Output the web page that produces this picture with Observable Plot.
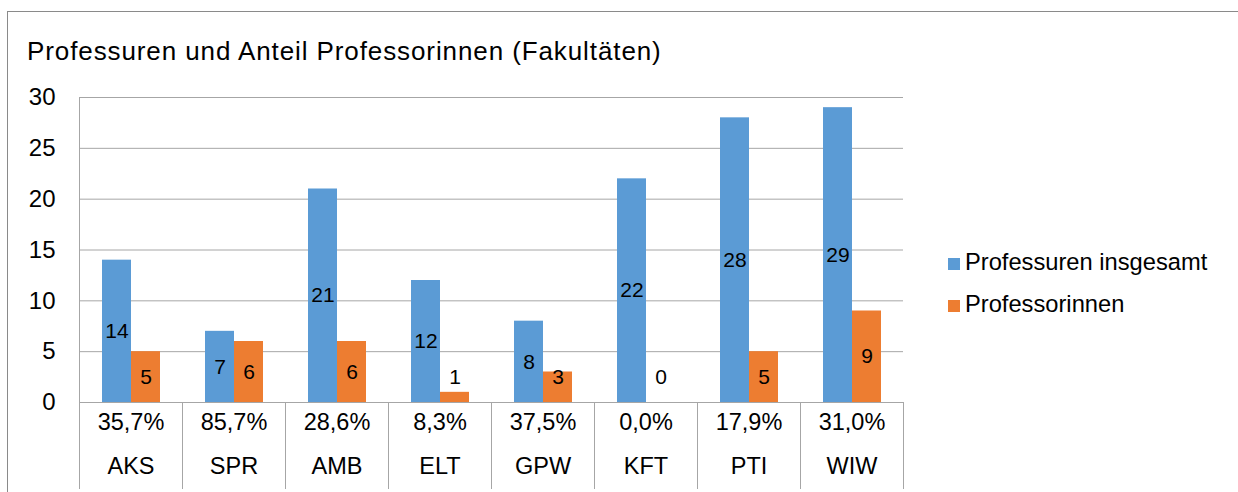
<!DOCTYPE html>
<html>
<head>
<meta charset="utf-8">
<script src="https://cdn.jsdelivr.net/npm/d3@7"></script>
<script src="https://cdn.jsdelivr.net/npm/@observablehq/plot@0.6"></script>
<style>
  body { margin: 0; background: #fff; }
  #wrap { position: relative; width: 1238px; height: 492px; overflow: hidden; font-family: "Liberation Sans", Arial, sans-serif; background: #fff; color: #000; }
  #box { position: absolute; left: 7px; top: 11px; width: 1400px; height: 700px; border: 1.5px solid #8a8a8a; box-sizing: border-box; }
  #title { position: absolute; left: 27px; top: 38px; font-size: 26px; line-height: 26px; letter-spacing: 0.9px; white-space: nowrap; }
  #chart { position: absolute; left: 0; top: 0; }
  .leg { position: absolute; left: 965px; font-size: 23.7px; line-height: 23px; white-space: nowrap; }
  .sw { position: absolute; left: 948px; width: 12px; height: 12px; }
</style>
</head>
<body>
<div id="wrap">
  <div id="box"></div>
  <div id="chart"></div>
  <div id="title"></div>
  <div id="legend"></div>
</div>
<script>
const titleText = "Professuren und Anteil Professorinnen (Fakultäten)";
const categories = ["AKS", "SPR", "AMB", "ELT", "GPW", "KFT", "PTI", "WIW"];
const totalProf = [14, 7, 21, 12, 8, 22, 28, 29];
const womenProf = [5, 6, 6, 1, 3, 0, 5, 9];
const shareLabels = ["35,7%", "85,7%", "28,6%", "8,3%", "37,5%", "0,0%", "17,9%", "31,0%"];
const seriesNames = ["Professuren insgesamt", "Professorinnen"];
const seriesColors = ["#5B9BD5", "#ED7D31"];
const yTicks = [0, 5, 10, 15, 20, 25, 30];

const data = categories.flatMap((c, i) => [
  {cat: c, series: seriesNames[0], value: totalProf[i]},
  {cat: c, series: seriesNames[1], value: womenProf[i]}
]);

const W = 1238, H = 492, mL = 76, mR = 332, mT = 97, mB = 90;
const innerH = H - mT - mB;
const tableH = 86;
const lineColor = "#a6a6a6";

document.getElementById("title").textContent = titleText;

const chart = Plot.plot({
  width: W, height: H,
  marginLeft: mL, marginRight: mR, marginTop: mT, marginBottom: mB,
  style: {fontFamily: "Liberation Sans, Arial, sans-serif", fontSize: "23px", background: "transparent", overflow: "visible"},
  fx: {domain: categories, padding: 0, axis: null},
  x: {domain: seriesNames, paddingInner: 0, paddingOuter: 0.758, axis: null},
  y: {domain: [0, 30], axis: null},
  color: {domain: seriesNames, range: seriesColors},
  marks: [
    Plot.gridY(yTicks, {stroke: lineColor, strokeOpacity: 1}),
    Plot.barY(data, {fx: "cat", x: "series", y: "value", fill: "series"}),
    Plot.text(data, {fx: "cat", x: "series", y: d => Math.max(d.value / 2, 2.45), text: d => String(d.value), fontSize: 21, fill: "#000"}),
    Plot.axisY(yTicks, {label: null, tickSize: 0, tickPadding: 24, fontSize: 24, fill: "#000"}),
    Plot.frame({anchor: "left", stroke: lineColor, insetTop: innerH, insetBottom: -tableH}),
    Plot.frame({anchor: "left", stroke: lineColor, insetBottom: -tableH, fx: () => categories[0]}),
    Plot.frame({anchor: "right", stroke: lineColor, insetTop: innerH, insetBottom: -tableH, fx: () => categories[categories.length - 1]}),
    Plot.text(categories, {fx: d => d, text: d => shareLabels[categories.indexOf(d)], frameAnchor: "bottom", dy: 27, fontSize: 23.5, fill: "#000"}),
    Plot.text(categories, {fx: d => d, text: d => d, frameAnchor: "bottom", dy: 71, fontSize: 23.5, fill: "#000"})
  ]
});
document.getElementById("chart").appendChild(chart);

const legend = document.getElementById("legend");
const legendTops = [251, 293];
seriesNames.forEach((name, i) => {
  const sw = document.createElement("div");
  sw.className = "sw";
  sw.style.top = (legendTops[i] + 7) + "px";
  sw.style.background = seriesColors[i];
  legend.appendChild(sw);
  const t = document.createElement("div");
  t.className = "leg";
  t.style.top = legendTops[i] + "px";
  t.textContent = name;
  legend.appendChild(t);
});
</script>
</body>
</html>
